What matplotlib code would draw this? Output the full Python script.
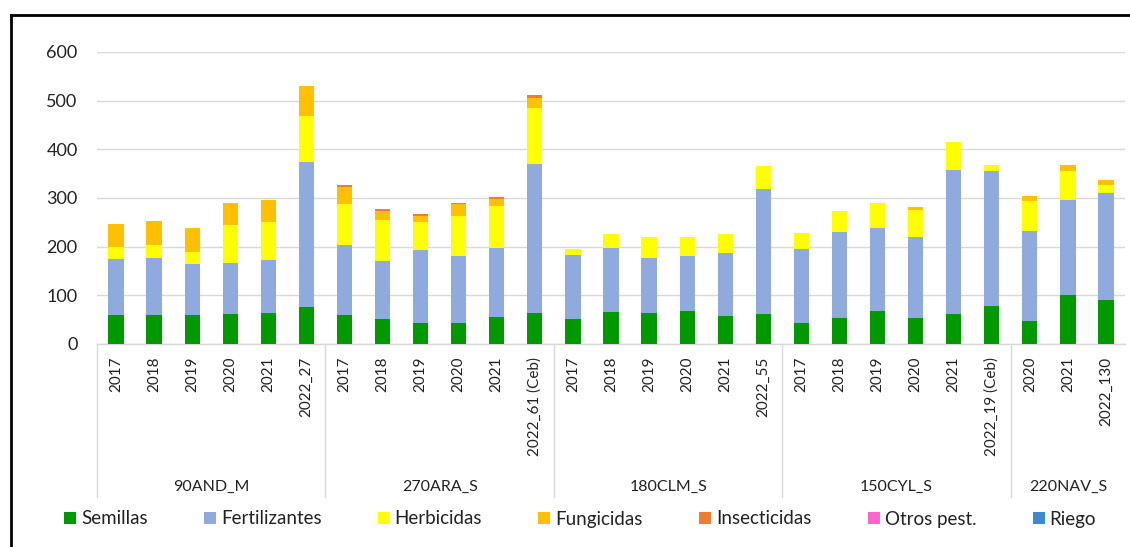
import matplotlib
matplotlib.use("Agg")
import matplotlib.pyplot as plt
from matplotlib.lines import Line2D
from matplotlib.patches import Patch
import numpy as np

plt.rcParams['font.family'] = ['Lato', 'DejaVu Sans']

groups = ["90AND_M", "270ARA_S", "180CLM_S", "150CYL_S", "220NAV_S"]
group_sizes = [6, 6, 6, 6, 3]
tick_labels = ["2017", "2018", "2019", "2020", "2021", "2022_27",
               "2017", "2018", "2019", "2020", "2021", "2022_61 (Ceb)",
               "2017", "2018", "2019", "2020", "2021", "2022_55",
               "2017", "2018", "2019", "2020", "2021", "2022_19 (Ceb)",
               "2020", "2021", "2022_130"]

semillas = [60.5, 60.5, 60.5, 62.6, 64.0, 77.0,
            60.5, 52.0, 44.0, 44.0, 55.0, 63.0,
            51.7, 65.5, 64.0, 67.0, 58.0, 61.4,
            42.8, 53.0, 67.6, 53.0, 61.4, 78.0,
            47.0, 101.4, 90.0]
fertilizantes = [113.5, 115.5, 103.5, 103.4, 108.0, 297.0,
                 142.5, 118.6, 150.0, 137.6, 141.7, 307.0,
                 131.7, 131.5, 113.0, 113.7, 130.0, 256.6,
                 153.1, 177.0, 171.4, 166.0, 295.6, 276.5,
                 186.0, 194.6, 219.7]
herbicidas = [25.0, 27.6, 26.0, 79.0, 77.7, 95.0,
              84.0, 83.9, 56.0, 81.1, 86.0, 115.0,
              12.5, 30.0, 42.0, 40.0, 39.0, 46.8,
              32.4, 43.8, 50.0, 56.9, 57.5, 12.5,
              60.0, 59.5, 17.9]
fungicidas = [48.6, 48.4, 48.6, 44.5, 46.0, 60.6,
              36.0, 19.2, 14.0, 24.8, 15.8, 21.0,
              0, 0, 0, 0, 0, 0,
              0, 0, 0, 5.5, 0, 0,
              11.8, 12.5, 9.4]
insecticidas = [0, 0, 0, 0, 0, 0,
                3.0, 4.3, 3.0, 2.5, 4.0, 5.0,
                0, 0, 0, 0, 0, 0,
                0, 0, 0, 0, 0, 0,
                0, 0, 0]
otros_pest = [0] * 27
riego = [0] * 27

series_names = ["Semillas", "Fertilizantes", "Herbicidas", "Fungicidas",
                "Insecticidas", "Otros pest.", "Riego"]
series_vals = [semillas, fertilizantes, herbicidas, fungicidas,
               insecticidas, otros_pest, riego]
colors = ["#009900", "#8faadc", "#ffff00", "#ffc000", "#ed7d31", "#ff66cc", "#3f88d2"]

W, H = 1130, 547
fig = plt.figure(figsize=(W / 100, H / 100), dpi=100)
ax = fig.add_axes([97 / W, (H - 344) / H, 1028 / W, 292 / H])

x = np.arange(len(tick_labels))
bottom = np.zeros(len(x))
for name, vals, c in zip(series_names, series_vals, colors):
    v = np.array(vals, dtype=float)
    ax.bar(x, v, width=0.4, bottom=bottom, color=c, label=name, zorder=3)
    bottom += v

ax.set_xlim(-0.5, len(x) - 0.5)
ax.set_ylim(0, 600)
ax.set_yticks(range(0, 601, 100))
ax.grid(axis='y', color='#d9d9d9', linewidth=1.0, zorder=0)
for s in ['top', 'right', 'left']:
    ax.spines[s].set_visible(False)
ax.spines['bottom'].set_color('#d9d9d9')
ax.spines['bottom'].set_linewidth(1.0)
ax.tick_params(axis='y', length=0, pad=14, labelsize=13, labelcolor='#222222')
ax.set_xticks(x)
ax.set_xticklabels(tick_labels, rotation=90, fontsize=11, color='#222222')
ax.tick_params(axis='x', length=0, pad=9)

# category group separators and labels
trans = ax.get_xaxis_transform()
ybot = (344 - 497) / 292
ylab = (344 - 487) / 292
start = 0
for g, n in zip(groups, group_sizes):
    ax.plot([start - 0.5, start - 0.5], [0, ybot], transform=trans,
            color='#d9d9d9', linewidth=1.0, clip_on=False)
    ax.text(start + (n - 1) / 2, ylab, g, transform=trans, ha='center', va='center',
            fontsize=11.5, color='#222222')
    start += n

handles = [Patch(facecolor=c, edgecolor='none') for c in colors]
fig.legend(handles, series_names, loc='center', bbox_to_anchor=(580 / W, (H - 519) / H),
           ncol=7, frameon=False, fontsize=13.5, handlelength=0.64, handleheight=0.64,
           handletextpad=0.27, columnspacing=3.0, labelcolor='#222222')

# outer frame (top and left edges visible)
fig.add_artist(Line2D([11 / W, 1], [1 - 15 / H, 1 - 15 / H], transform=fig.transFigure,
                      color='black', linewidth=2.0))
fig.add_artist(Line2D([11 / W, 11 / W], [0, 1 - 15 / H], transform=fig.transFigure,
                      color='black', linewidth=2.0))

fig.savefig("out.png", dpi=100)
